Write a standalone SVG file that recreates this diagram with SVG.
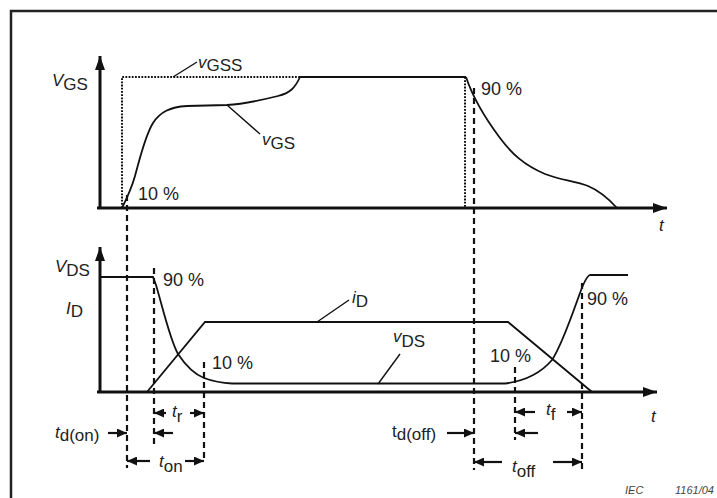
<svg xmlns="http://www.w3.org/2000/svg" width="717" height="498" viewBox="0 0 717 498">
<style>
text{font-family:"Liberation Sans",Arial,sans-serif;font-size:17px;fill:#222}
.it{font-style:italic}
.pc{font-size:18px}
.ax{stroke:#111;stroke-width:3;fill:none}
.wf{stroke:#111;stroke-width:1.8;fill:none}
.dash{stroke:#111;stroke-width:2.2;stroke-dasharray:6 4;fill:none}
.dot{stroke:#111;stroke-width:2;stroke-dasharray:1.8 1.4;fill:none}
.ld{stroke:#111;stroke-width:1.4;fill:none}
.ar{stroke:#111;stroke-width:2.2;fill:none;marker-end:url(#ah)}
.iec{font-size:11px;font-style:italic;fill:#444}
</style>
<defs>
<marker id="ah" markerUnits="userSpaceOnUse" markerWidth="10" markerHeight="9" refX="10" refY="4.5" orient="auto"><path d="M0,0 L10,4.5 L0,9 Z" fill="#111"/></marker>
<marker id="axh" markerUnits="userSpaceOnUse" markerWidth="14" markerHeight="10" refX="14" refY="5" orient="auto"><path d="M0,0 L14,5 L0,10 Z" fill="#111"/></marker>
</defs>
<rect width="717" height="498" fill="#fff"/>
<g id="frame"><path d="M11,498 L11,11 L717,11" stroke="#222" stroke-width="2.5" fill="none"/></g>

<g id="upper-axes">
<path class="ax" d="M100,208 L100,56" marker-end="url(#axh)"/>
<path class="ax" d="M97,208 L667,208" marker-end="url(#axh)"/>
<text x="52" y="86"><tspan class="it">V</tspan><tspan dy="4">GS</tspan></text>
<text class="it" x="659" y="231">t</text>
</g>
<g id="vgss">
<path class="dot" d="M122,208 L122,77 L300,77"/>
<path class="wf" d="M300,77 L466,77"/>
<path class="dot" d="M465,77 L465,208"/>
<text x="198" y="68"><tspan class="it">v</tspan><tspan dy="3">GSS</tspan></text>
</g>
<g id="vgs-curve">
<path class="wf" d="M122,208 C127,198 131,190 135,176 C140,158 145,136 153,123 C160,112 170,107 187,106 L227,105 C245,104 262,100 278,96 C290,93 295,88 300,77"/>
<path class="wf" d="M466,77 C472,95 485,118 500,138 C512,154 524,165 545,174 C560,180 575,181 588,186 C600,191 608,198 617,208"/>
<text x="262" y="145"><tspan class="it">v</tspan><tspan dy="4">GS</tspan></text>
<text class="pc" x="138" y="200">10 %</text>
<text class="pc" x="481" y="95">90 %</text>
</g>

<g id="lower-axes">
<path class="ax" d="M100,392 L100,247" marker-end="url(#axh)"/>
<path class="ax" d="M97,392 L657,392" marker-end="url(#axh)"/>
<text x="55" y="272"><tspan class="it">V</tspan><tspan dy="4">DS</tspan></text>
<text x="66" y="314"><tspan class="it">I</tspan><tspan dy="3">D</tspan></text>
<text class="it" x="651" y="422">t</text>
</g>
<g id="vds-curve">
<path class="wf" d="M100,277 L153,277 L156,285 C162,305 170,340 178,354 C186,366 194,374 204,378 C212,381 220,383 232,383.5 L505,383.5 C525,381 540,374 552,360 C562,345 572,315 580,293 C584,282 587,276 590,275 L628,275"/>
<text x="393" y="342"><tspan class="it">v</tspan><tspan dy="5">DS</tspan></text>
<text class="pc" x="163" y="286">90 %</text>
<text class="pc" x="212" y="369">10 %</text>
<text class="pc" x="490" y="362">10 %</text>
<text class="pc" x="587" y="305">90 %</text>
</g>
<g id="id-curve">
<path class="wf" d="M147,392 L205,322 L508,322 L592,392"/>
<text x="352" y="303"><tspan class="it">i</tspan><tspan dy="4">D</tspan></text>
</g>

<g id="connectors">
<path class="ld" d="M173,77 L197,62"/>
<path class="ld" d="M227,105 L260,134"/>
<path class="ld" d="M317,322 L349,300"/>
<path class="ld" d="M378,384 L400,354"/>
<path class="dash" d="M127,195 L127,468"/>
<path class="dash" d="M154,268 L154,445"/>
<path class="dash" d="M204,362 L204,462"/>
<path class="dash" d="M474,88 L474,470"/>
<path class="dash" d="M515,367 L515,440"/>
<path class="dash" d="M582,283 L582,470"/>
<path class="ar" d="M166,413 L154,413"/>
<path class="ar" d="M190,413 L204,413"/>
<path class="ar" d="M108,433 L127,433"/>
<path class="ar" d="M173,433 L154,433"/>
<path class="ar" d="M150,461 L127,461"/>
<path class="ar" d="M185,461 L204,461"/>
<path class="ar" d="M535,412 L515,412"/>
<path class="ar" d="M567,412 L582,412"/>
<path class="ar" d="M447,433 L474,433"/>
<path class="ar" d="M538,433 L515,433"/>
<path class="ar" d="M502,462 L474,462"/>
<path class="ar" d="M553,462 L582,462"/>
</g>

<g id="timing-labels">
<text x="172" y="417"><tspan class="it">t</tspan><tspan dy="5">r</tspan></text>
<text x="55" y="438"><tspan class="it">t</tspan><tspan dy="3">d(on)</tspan></text>
<text x="159" y="467"><tspan class="it">t</tspan><tspan dy="5">on</tspan></text>
<text x="392" y="437">t<tspan dy="3">d(off)</tspan></text>
<text x="546" y="415"><tspan class="it">t</tspan><tspan dy="5">f</tspan></text>
<text x="512" y="472"><tspan class="it">t</tspan><tspan dy="5">off</tspan></text>
</g>
<g id="ref"><text class="iec" x="625" y="494">IEC</text><text class="iec" x="675" y="494">1161/04</text></g>
</svg>
